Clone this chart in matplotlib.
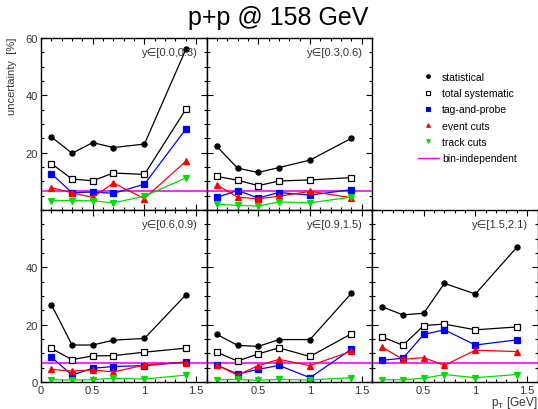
import matplotlib
matplotlib.use('Agg')
import matplotlib.pyplot as plt
from matplotlib.lines import Line2D
from matplotlib.ticker import MultipleLocator

plt.rcParams['font.family'] = ['Liberation Sans', 'DejaVu Sans']

# pT bin centres [GeV]
pt = [0.1, 0.3, 0.5, 0.7, 1.0, 1.4]

rapidity_bins = ['y∈[0.0,0.3)', 'y∈[0.3,0.6)', 'y∈[0.6,0.9)', 'y∈[0.9,1.5)', 'y∈[1.5,2.1)']

# uncertainty [%] per rapidity bin
statistical = [
    [25.5, 19.8, 23.5, 21.8, 23.0, 56.0],
    [22.2, 14.6, 13.1, 14.8, 17.4, 25.0],
    [27.0, 12.9, 12.9, 14.6, 15.2, 30.4],
    [16.6, 12.8, 12.4, 14.8, 14.8, 30.9],
    [26.2, 23.4, 24.0, 34.4, 30.7, 47.0],
]
total_systematic = [
    [16.2, 10.8, 10.2, 12.9, 12.4, 35.1],
    [11.7, 10.4, 8.5, 10.1, 10.5, 11.3],
    [11.7, 7.8, 9.1, 9.2, 10.4, 11.8],
    [10.4, 7.3, 9.8, 11.9, 8.9, 16.8],
    [15.7, 12.8, 19.7, 20.2, 18.2, 19.2],
]
tag_and_probe = [
    [12.7, 6.0, 6.3, 5.8, 9.0, 28.2],
    [4.4, 6.8, 4.2, 6.1, 5.2, 7.1],
    [8.7, 2.4, 4.8, 5.4, 5.7, 7.0],
    [5.9, 2.8, 4.4, 5.8, 1.5, 11.4],
    [7.6, 8.3, 16.6, 18.2, 12.9, 14.7],
]
event_cuts = [
    [7.8, 6.0, 4.4, 9.4, 4.0, 17.0],
    [8.8, 4.5, 3.9, 4.8, 6.5, 4.3],
    [4.4, 3.8, 4.2, 3.5, 5.9, 6.8],
    [5.9, 2.4, 5.7, 7.9, 5.7, 10.7],
    [12.1, 7.9, 8.5, 5.8, 11.1, 10.6],
]
track_cuts = [
    [3.3, 3.3, 3.2, 2.5, 4.8, 11.2],
    [2.0, 1.6, 1.4, 2.8, 2.5, 4.5],
    [0.8, 0.7, 0.8, 1.3, 1.0, 2.4],
    [0.8, 0.9, 0.6, 0.9, 0.7, 1.5],
    [0.8, 0.8, 1.3, 2.6, 1.5, 2.6],
]
bin_independent = 6.5

series = [
    ('statistical', statistical, dict(color='black', marker='o', mfc='black')),
    ('total systematic', total_systematic, dict(color='black', marker='s', mfc='white')),
    ('tag-and-probe', tag_and_probe, dict(color='blue', marker='s', mfc='blue')),
    ('event cuts', event_cuts, dict(color='red', marker='^', mfc='red')),
    ('track cuts', track_cuts, dict(color='#00dd00', marker='v', mfc='#00dd00')),
]

W, H = 538, 410
fig = plt.figure(figsize=(W / 100, H / 100), dpi=100)

x0 = [41, 206.5, 372]
pw = 165.5
rows_top = [39, 211]
ph = 172
# panel positions (col, row)
slots = [(0, 0), (1, 0), (0, 1), (1, 1), (2, 1)]

for i, (col, row) in enumerate(slots):
    ax = fig.add_axes([x0[col] / W, 1 - (rows_top[row] + ph) / H, pw / W, ph / H])
    for name, vals, st in series:
        ax.plot(pt, vals[i], lw=0.9, ms=3.7, mec=st['color'], mew=0.9, **st)
    ax.axhline(bin_independent, color='#ff00ff', lw=1.2, zorder=0)
    ax.set_xlim(0, 1.6)
    ax.set_ylim(0, 60)
    ax.xaxis.set_major_locator(MultipleLocator(0.5))
    ax.xaxis.set_minor_locator(MultipleLocator(0.1))
    ax.yaxis.set_major_locator(MultipleLocator(20))
    ax.yaxis.set_minor_locator(MultipleLocator(5))
    ax.tick_params(which='both', direction='in', top=True, right=True,
                   labelsize=8, labelcolor='#333333', pad=2, width=0.8)
    ax.tick_params(which='major', length=4)
    ax.tick_params(which='minor', length=2.3)
    ax.xaxis.set_major_formatter(plt.FuncFormatter(lambda v, p: '%g' % v))
    for s in ax.spines.values():
        s.set_linewidth(1.0)
    ax.text(0.945, 0.95, rapidity_bins[i], transform=ax.transAxes, ha='right', va='top',
            fontsize=8, color='#333333')
    if row == 0:
        ax.tick_params(labelbottom=False)
    if col != 0:
        ax.tick_params(labelleft=False)
    if col == 0 and row == 0:
        ax.set_yticks([20, 40, 60])
    if col == 0 and row == 1:
        ax.set_yticks([0, 20, 40])
    if col != 0 and row == 1:
        ax.set_xticks([0.5, 1.0, 1.5])

fig.text(278 / W, 1 - 18 / H, 'p+p @ 158 GeV', ha='center', va='center', fontsize=18)
fig.text(12 / W, 1 - 38 / H, 'uncertainty  [%]', rotation=90, ha='center', va='top',
         fontsize=8, color='#333333')
fig.text(1 - 1 / W, 1 - 403 / H, r'$\mathregular{p_{T}}$ [GeV]', ha='right', va='center',
         fontsize=8.5, color='#333333')

# small markers in the legend, as in the original
handles = [Line2D([], [], ls='none', ms=2.6, mec=st['color'], mew=0.8, **st) for _, _, st in series]
handles.append(Line2D([], [], color='#ff00ff', lw=1.0))
labels = [s[0] for s in series] + ['bin-independent']
fig.legend(handles, labels, loc='upper left', bbox_to_anchor=(418 / W, 1 - 73 / H),
           frameon=False, fontsize=7.5, handlelength=2.0, handletextpad=0.3,
           labelspacing=0.6, borderaxespad=0, borderpad=0)

fig.savefig('out.png', dpi=100)
